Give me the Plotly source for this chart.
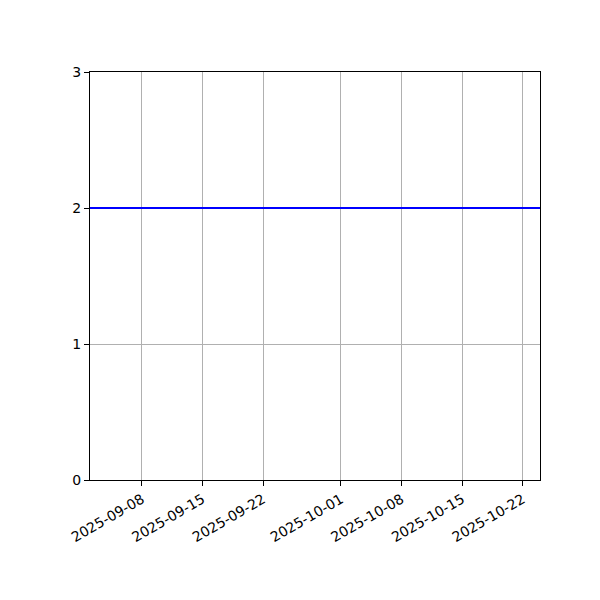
import plotly.graph_objects as go

# ── 데이터 ─────────────────────────────────────────────
DATES  = ["2025-09-02", "2025-10-24"]
VALUES = [2, 2]

TICK_DATES  = ["2025-09-08", "2025-09-15", "2025-09-22", "2025-10-01",
               "2025-10-08", "2025-10-15", "2025-10-22"]
Y_TICKS = [0, 1, 2, 3]

fig = go.Figure()
fig.add_trace(go.Scatter(
    x=DATES, y=VALUES, mode="lines",
    line=dict(color="#0000ff", width=2),
    showlegend=False,
))

axis_common = dict(
    showline=True, linecolor="black", linewidth=1, mirror=True,
    ticks="outside", ticklen=5, tickwidth=1, tickcolor="black",
    showgrid=True, gridcolor="#b0b0b0", gridwidth=1, zeroline=False,
    tickfont=dict(family="DejaVu Sans", size=14, color="black"),
)

fig.update_xaxes(
    type="date", range=[DATES[0], DATES[-1]],
    tickvals=TICK_DATES, ticktext=TICK_DATES, tickangle=-30,
    **axis_common,
)
fig.update_yaxes(
    range=[0, 3], tickvals=Y_TICKS,
    **axis_common,
)

# 페이지 여백(8px) 보정
fig.update_layout(
    width=600, height=600,
    margin=dict(l=82, r=68, t=64, b=128),
    paper_bgcolor="white", plot_bgcolor="white",
)

fig.write_html("out.html")
